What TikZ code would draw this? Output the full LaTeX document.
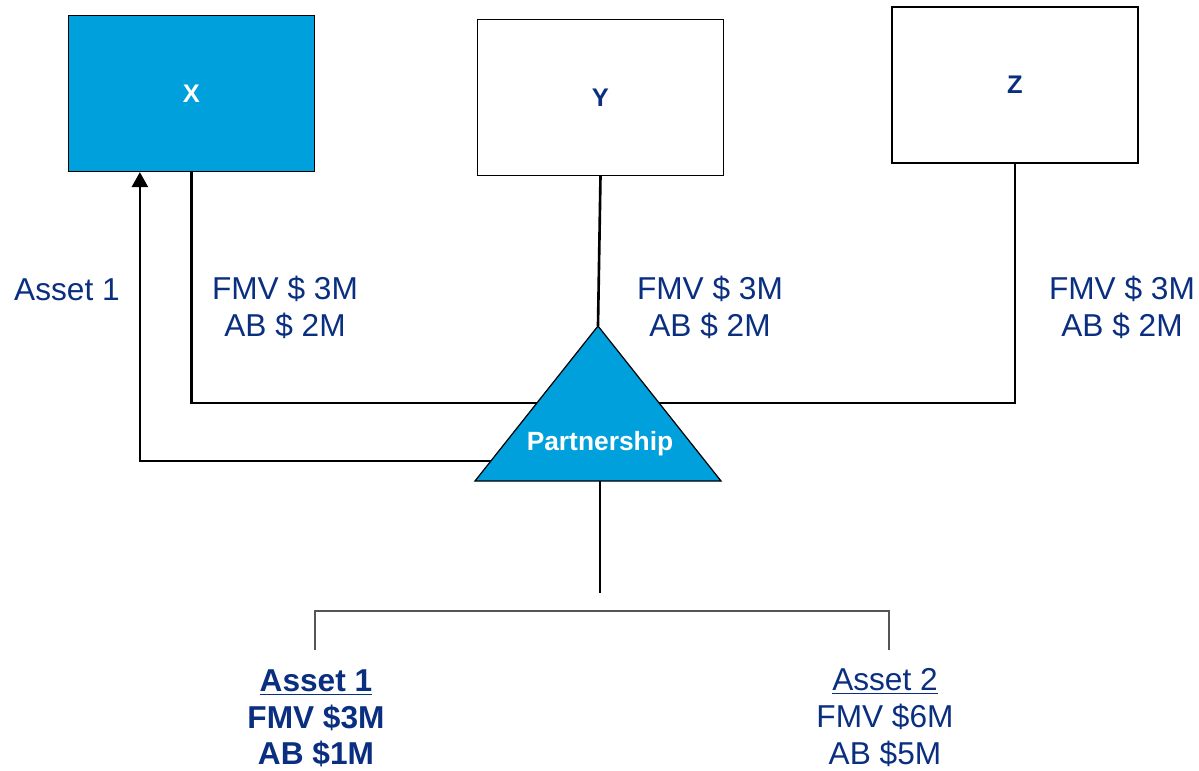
\documentclass[tikz,border=0pt]{standalone}
\usepackage{fontspec}
\setmainfont{Liberation Sans}
\usetikzlibrary{positioning, arrows.meta, calc}
\usepackage{xcolor}
\definecolor{ptblue}{HTML}{00A0DC}
\definecolor{ptnavy}{HTML}{0A2E80}
\definecolor{ptgrey}{HTML}{555555}

\tikzset{
  partner/.style={draw=black, line width=0.7pt, minimum width=4.92cm, minimum height=3.12cm,
                  font=\fontsize{14.5}{16}\selectfont\bfseries, text=ptnavy},
  link/.style={draw=black, line width=1.5pt},
  bracket/.style={draw=ptgrey, line width=0.8pt},
  value/.style={text=ptnavy, align=center, inner sep=0pt, font=\fontsize{18}{21}\selectfont}
}

\begin{document}
\begin{tikzpicture}
    \useasboundingbox (-12,8) rectangle (11.98,-7.4);
    % partners
    \node[partner, fill=ptblue, text=white] (x) at (-8.17,6.13) {X};
    \node[partner] (y) at (0.01,6.05) {Y};
    \node[partner] (z) at (8.3,6.3) {Z};

    \coordinate (hub) at (0,-0.06);
    \coordinate (out) at (0,-1.22);
    \coordinate (pt) at (-0.04,1.48);
    \coordinate (pl) at (-2.5,-1.62);
    \coordinate (pr) at (2.42,-1.62);
    \coordinate (pb) at (0,-1.62);

    % links to the partnership
    \draw[link] (x.south) -- (x.south |- hub) -| (z.south);
    \draw[link] (y.south) -- (pt);
    \draw[link, -{Triangle[length=0.3cm, width=0.32cm]}] (out) -| ($(x.south west)+(1.44,0)$);
    \draw[link] (pb) -- ++(0,-2.24);

    \filldraw[fill=ptblue, draw=black, line width=0.7pt] (pt) -- (pl) -- (pr) -- cycle;
    \node[text=white, font=\fontsize{15}{17}\selectfont\bfseries] (p) at (0,-0.88) {Partnership};

    \node[value] (dist) at (-10.66,2.2) {Asset 1};
    \node[value] (vx) at (-6.3,1.86) {FMV \$ 3M\\AB \$ 2M};
    \node[value] (vy) at (2.2,1.86) {FMV \$ 3M\\AB \$ 2M};
    \node[value] (vz) at (10.44,1.86) {FMV \$ 3M\\AB \$ 2M};

    % assets held
    \coordinate (bl) at (-5.7,-5.0);
    \coordinate (br) at (5.78,-5.0);
    \draw[bracket] (bl) -- ++(0,0.78) -| (br);
    \node[value, font=\fontsize{18}{21}\selectfont\bfseries, anchor=north] (a1) at (-5.68,-5.38)
         {\underline{Asset 1}\\FMV \$3M\\AB \$1M};
    \node[value, anchor=north] (a2) at (5.7,-5.36)
         {\underline{Asset 2}\\FMV \$6M\\AB \$5M};
\end{tikzpicture}
\end{document}
